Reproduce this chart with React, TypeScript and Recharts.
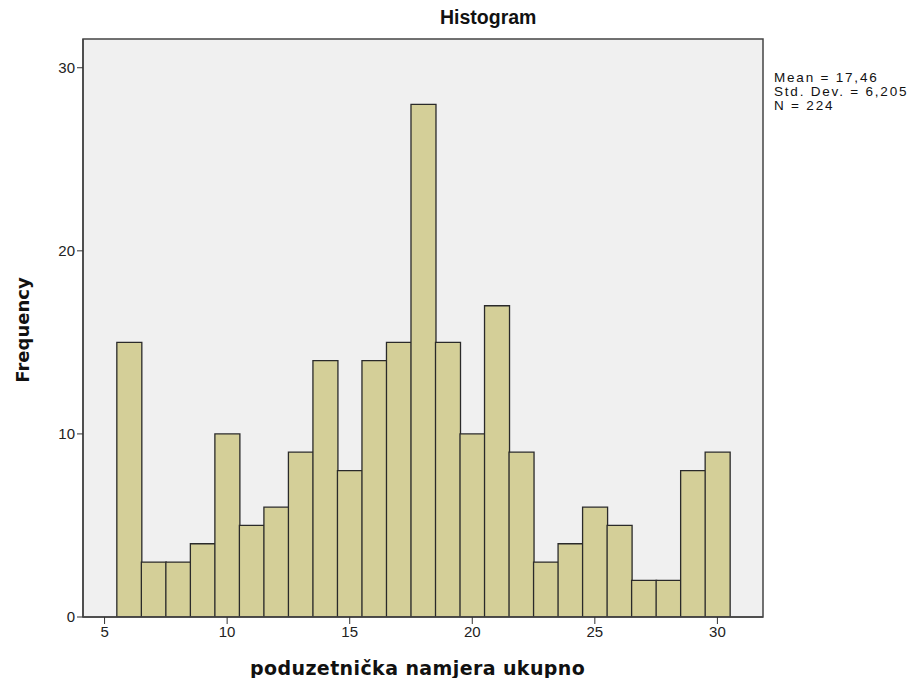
import { ComposedChart, Bar, XAxis, YAxis, CartesianGrid, ReferenceArea } from "recharts";

const binCenters = [6, 7, 8, 9, 10, 11, 12, 13, 14, 15, 16, 17, 18, 19, 20, 21, 22, 23, 24, 25, 26, 27, 28, 29, 30];
const frequencies = [15, 3, 3, 4, 10, 5, 6, 9, 14, 8, 14, 15, 28, 15, 10, 17, 9, 3, 4, 6, 5, 2, 2, 8, 9];
const xTicks = [5, 10, 15, 20, 25, 30];
const yTicks = [0, 10, 20, 30];
const xDomain = [4.12, 31.86];
const yDomain = [0, 31.57];
const statsLines = ["Mean = 17,46", "Std. Dev. = 6,205", "N = 224"];

const data = binCenters.map((x, i) => ({ x, count: frequencies[i] }));

const font = "'Liberation Sans', Arial, sans-serif";
const wideFont = "'DejaVu Sans', Verdana, sans-serif";

export default function App() {
  return (
    <div style={{ position: "relative", width: 900, height: 670, fontFamily: font }}>
      <ComposedChart
        width={900}
        height={670}
        data={data}
        barCategoryGap={0}
        barGap={0}
        margin={{ top: 31, right: 145, bottom: 0, left: 35 }}
      >
        <CartesianGrid horizontal={false} vertical={false} fill="#f0f0f0" />
        <XAxis
          dataKey="x"
          type="number"
          domain={xDomain}
          allowDataOverflow
          ticks={xTicks}
          height={61}
          tickSize={7}
          tickLine={{ stroke: "#333" }}
          axisLine={{ stroke: "#444", strokeWidth: 1.5 }}
          tick={{ fontSize: 15, fill: "#222", fontFamily: font }}
        />
        <YAxis
          domain={yDomain}
          allowDataOverflow
          ticks={yTicks}
          width={40}
          tickSize={6}
          tickLine={{ stroke: "#333" }}
          axisLine={{ stroke: "#444", strokeWidth: 1.5 }}
          tick={{ fontSize: 15, fill: "#222", fontFamily: font }}
        />
        <Bar
          dataKey="count"
          fill="#d4cf98"
          stroke="#2a2a2a"
          strokeWidth={1.3}
          isAnimationActive={false}
        />
        <ReferenceArea
          x1={xDomain[0]}
          x2={xDomain[1]}
          y1={yDomain[0]}
          y2={yDomain[1]}
          fill="none"
          fillOpacity={0}
          stroke="#444"
          strokeWidth={1.5}
          ifOverflow="visible"
        />
      </ComposedChart>
      <div
        style={{
          position: "absolute",
          left: 432,
          top: -2,
          fontWeight: "bold",
          fontSize: 19.5,
          color: "#111",
        }}
      >
        Histogram
      </div>
      <div
        style={{
          position: "absolute",
          left: 766,
          top: 63,
          fontSize: 13.5,
          letterSpacing: 1.8,
          lineHeight: "14px",
          color: "#111",
          whiteSpace: "nowrap",
        }}
      >
        {statsLines.map((s) => (
          <div key={s}>{s}</div>
        ))}
      </div>
      <div
        style={{
          position: "absolute",
          left: 242,
          top: 649,
          fontWeight: "bold",
          fontSize: 19,
          letterSpacing: 0.4,
          fontFamily: wideFont,
          color: "#111",
          whiteSpace: "nowrap",
        }}
      >
        poduzetnička namjera ukupno
      </div>
      <div
        style={{
          position: "absolute",
          left: 14,
          top: 322,
          fontWeight: "bold",
          fontSize: 18,
          fontFamily: wideFont,
          color: "#111",
          transform: "translate(-50%, -50%) rotate(-90deg)",
          whiteSpace: "nowrap",
        }}
      >
        Frequency
      </div>
    </div>
  );
}
